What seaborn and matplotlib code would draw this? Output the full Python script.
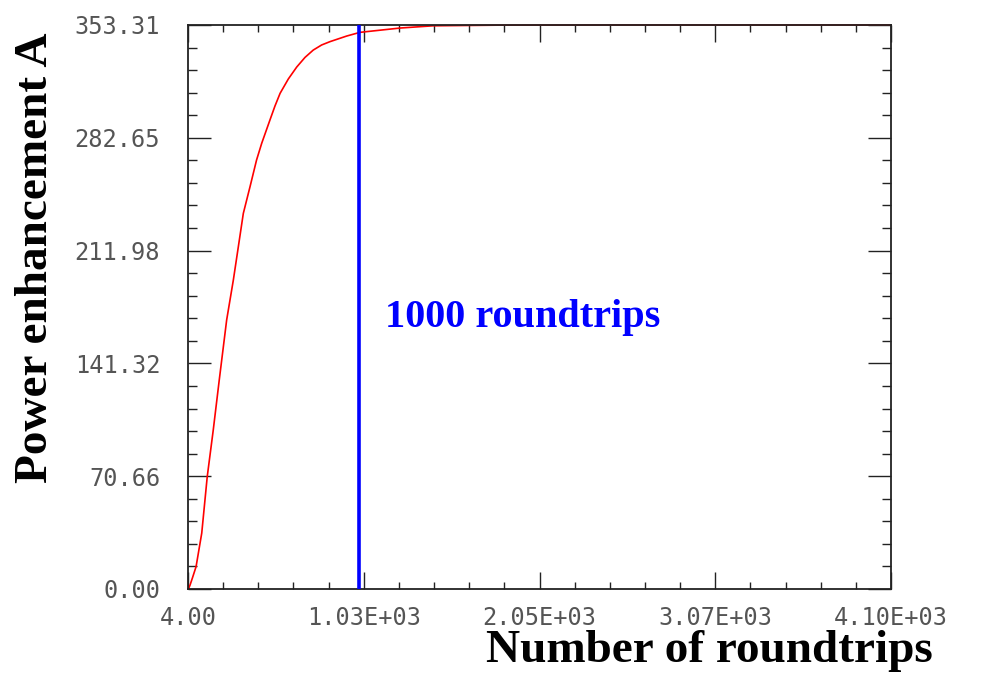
import numpy as np
import pandas as pd
import matplotlib
matplotlib.use("Agg")
import matplotlib.pyplot as plt
from matplotlib.ticker import FixedLocator, AutoMinorLocator
import seaborn as sns

# ---- data ----
roundtrips = [4, 9, 16, 30, 51, 84, 116, 151, 186, 229, 268, 297, 326, 365, 403,
              433, 481, 510, 540, 588, 637, 685, 733, 782, 831, 928, 1005, 1238,
              1430, 1800, 2500, 3200, 4096]
enhancement = [0, 0.6, 2.5, 7, 14, 35, 70.4, 99.6, 131, 168.5, 193.6, 214.4,
               235.3, 252, 268.7, 279.2, 293.8, 302.5, 310.5, 319.5, 327.0, 333.0,
               337.6, 340.8, 342.9, 346.4, 348.7, 351.4, 352.8, 353.2, 353.3,
               353.3, 353.3]
marker_roundtrips = 1000
marker_label = "1000 roundtrips"

x_ticks = [4, 1027, 2050, 3073, 4096]
x_ticklabels = ["4.00", "1.03E+03", "2.05E+03", "3.07E+03", "4.10E+03"]
y_max = 353.306
y_ticks = [0, 70.661, 141.322, 211.984, 282.645, 353.306]
y_ticklabels = ["0.00", "70.66", "141.32", "211.98", "282.65", "353.31"]

df = pd.DataFrame({"N": roundtrips, "A": enhancement})

sns.set_style("ticks")
W, H = 984, 674
fig = plt.figure(figsize=(W / 100, H / 100), dpi=100)
ax = fig.add_axes([188 / W, 1 - 589 / H, (891 - 188) / W, (589 - 25) / H])

sns.lineplot(data=df, x="N", y="A", ax=ax, color="#ff0000", linewidth=1.2,
             clip_on=False)
ax.axvline(marker_roundtrips, color="#0000ff", linewidth=2.6, zorder=3)

ax.set_xlim(x_ticks[0], x_ticks[-1])
ax.set_ylim(0, y_max)

ax.xaxis.set_major_locator(FixedLocator(x_ticks))
ax.yaxis.set_major_locator(FixedLocator(y_ticks))
ax.xaxis.set_minor_locator(AutoMinorLocator(5))
ax.yaxis.set_minor_locator(AutoMinorLocator(5))
ax.set_xticklabels(x_ticklabels)
ax.set_yticklabels(y_ticklabels)

spine_col = "#222222"
for s in ax.spines.values():
    s.set_color(spine_col)
    s.set_linewidth(1.3)
    s.set_visible(True)

tick_font = dict(family="DejaVu Sans Mono", size=17)
ax.tick_params(axis="both", which="both", direction="in", top=True, right=True,
               color=spine_col, width=1.0, labelcolor="#555555")
ax.tick_params(axis="x", which="major", length=12.2, pad=12)
ax.tick_params(axis="x", which="minor", length=5)
ax.tick_params(axis="y", which="major", length=16.6, pad=20)
ax.tick_params(axis="y", which="minor", length=6.5)
for lab in ax.get_xticklabels() + ax.get_yticklabels():
    lab.set_fontfamily(tick_font["family"])
    lab.set_fontsize(tick_font["size"])

ax.set_xlabel("")
ax.set_ylabel("")

ax.text(1151, (589 - 327) * y_max / 564, marker_label, color="#0000ff",
        fontsize=29, fontweight="bold", family="Liberation Serif",
        ha="left", va="baseline")

fig.text(933 / W, 1 - 662 / H, "Number of roundtrips", fontsize=34,
         fontweight="bold", family="Liberation Serif", ha="right",
         va="baseline", color="black")
fig.text(36 / W, 1 - 258 / H, "Power enhancement A", fontsize=34,
         fontweight="bold", family="Liberation Serif", rotation=90,
         ha="center", va="center", color="black")

fig.savefig("out.png", dpi=100, facecolor="white")
